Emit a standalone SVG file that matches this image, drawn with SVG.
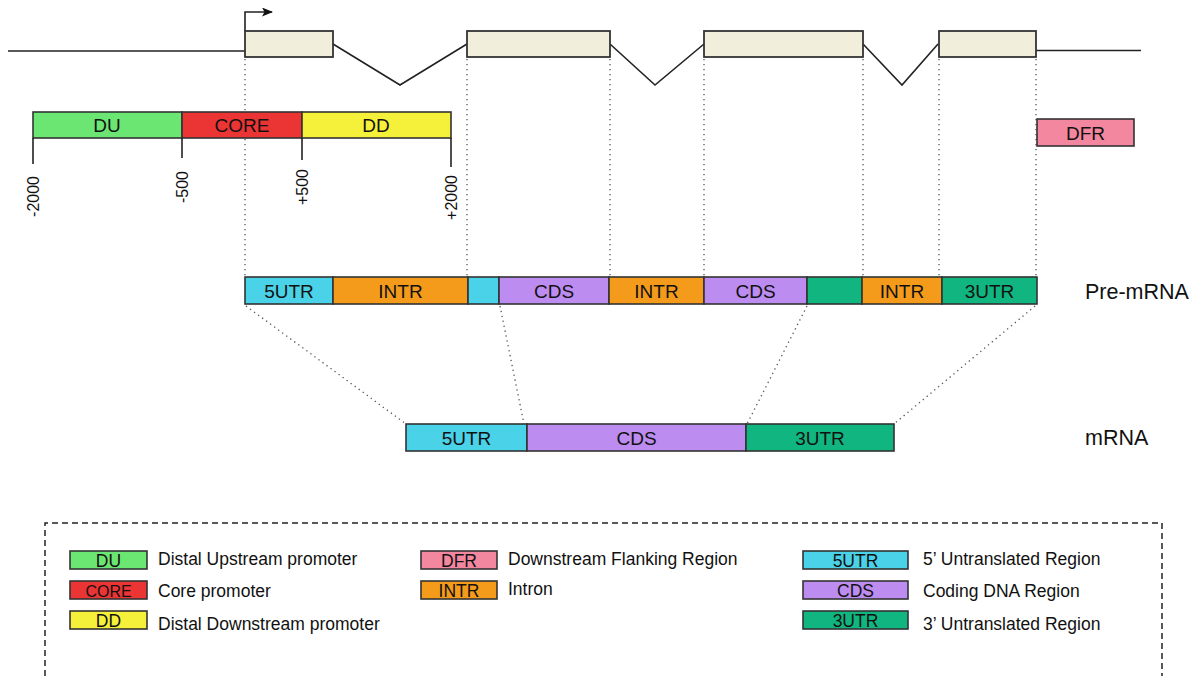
<svg xmlns="http://www.w3.org/2000/svg" width="1199" height="676" viewBox="0 0 1199 676">
<defs>
<marker id="arr" markerWidth="11" markerHeight="9" refX="10" refY="4.5" orient="auto" markerUnits="userSpaceOnUse">
<path d="M0,0 L11,4.5 L0,9 L2.5,4.5 Z" fill="#111"/>
</marker>
<style>
text{font-family:"Liberation Sans",Arial,sans-serif;fill:#111}
.seg{stroke:#333;stroke-width:1.6}
.exon{fill:#f1efdc;stroke:#333;stroke-width:1.8}
.line{stroke:#222;stroke-width:1.6;fill:none}
.dot{stroke:#555;stroke-width:1.3;stroke-dasharray:1.3 3.7;fill:none}
.lab{font-size:19px;text-anchor:middle}
.tick{font-size:16px;text-anchor:end}
.leg{font-size:17.5px;text-anchor:middle}
.desc{font-size:17.5px}
.big{font-size:21.5px}
.du{fill:#6ce672}.core{fill:#eb3434}.dd{fill:#f5f03a}.dfr{fill:#f2879f}
.intr{fill:#f59b1c}.utr5{fill:#4ad2e8}.cds{fill:#bd8cf0}.utr3{fill:#10b57f}
</style>
</defs>
<rect width="1199" height="676" fill="#fff"/>

<g id="connectors">
<line class="line" x1="8" y1="51" x2="245" y2="51"/>
<line class="line" x1="1036" y1="50.5" x2="1141" y2="50.5"/>
<path class="line" d="M245,31 V12 H272" marker-end="url(#arr)"/>
<polyline class="line" points="333,44 400,85 467,44"/>
<polyline class="line" points="610,44 655,85 704,44"/>
<polyline class="line" points="863,44 902,85 938,44"/>
<line class="dot" x1="245" y1="59" x2="245" y2="277"/>
<line class="dot" x1="467" y1="59" x2="467" y2="277"/>
<line class="dot" x1="610" y1="59" x2="610" y2="277"/>
<line class="dot" x1="704" y1="59" x2="704" y2="277"/>
<line class="dot" x1="863" y1="59" x2="863" y2="277"/>
<line class="dot" x1="939" y1="59" x2="939" y2="277"/>
<line class="dot" x1="1036" y1="59" x2="1036" y2="277"/>
<line class="dot" x1="246" y1="306" x2="406" y2="424"/>
<line class="dot" x1="500" y1="306" x2="524" y2="424"/>
<line class="dot" x1="807" y1="306" x2="747" y2="424"/>
<line class="dot" x1="1035" y1="306" x2="894" y2="424"/>
</g>

<g id="exon1"><rect class="exon" x="245" y="31" width="88" height="26"/></g>
<g id="exon2"><rect class="exon" x="467" y="31" width="143" height="26"/></g>
<g id="exon3"><rect class="exon" x="704" y="31" width="159" height="26"/></g>
<g id="exon4"><rect class="exon" x="939" y="31" width="97" height="26"/></g>

<g id="promoter">
<rect class="seg du" x="33" y="112" width="149" height="26"/>
<rect class="seg core" x="182" y="112" width="120" height="26"/>
<rect class="seg dd" x="302" y="112" width="149" height="26"/>
<text class="lab" x="107" y="132">DU</text>
<text class="lab" x="242" y="132">CORE</text>
<text class="lab" x="376" y="132">DD</text>
<line class="line" x1="33" y1="138" x2="33" y2="164"/>
<line class="line" x1="182" y1="138" x2="182" y2="158"/>
<line class="line" x1="302" y1="138" x2="302" y2="160"/>
<line class="line" x1="451" y1="138" x2="451" y2="167"/>
<text class="tick" transform="translate(39,176) rotate(-90)">-2000</text>
<text class="tick" transform="translate(188,171) rotate(-90)">-500</text>
<text class="tick" transform="translate(308,169) rotate(-90)">+500</text>
<text class="tick" transform="translate(457,175) rotate(-90)">+2000</text>
</g>

<g id="dfr">
<rect class="seg dfr" x="1037" y="119" width="97" height="27"/>
<text class="lab" x="1085.5" y="139.5">DFR</text>
</g>

<g id="pre-mrna">
<rect class="seg utr5" x="245" y="277" width="88" height="27"/>
<rect class="seg intr" x="333" y="277" width="135" height="27"/>
<rect class="seg utr5" x="468" y="277" width="31" height="27"/>
<rect class="seg cds" x="499" y="277" width="110" height="27"/>
<rect class="seg intr" x="609" y="277" width="95" height="27"/>
<rect class="seg cds" x="704" y="277" width="103" height="27"/>
<rect class="seg utr3" x="807" y="277" width="55" height="27"/>
<rect class="seg intr" x="862" y="277" width="80" height="27"/>
<rect class="seg utr3" x="942" y="277" width="95" height="27"/>
<text class="lab" x="289" y="297.5">5UTR</text>
<text class="lab" x="400.5" y="297.5">INTR</text>
<text class="lab" x="554" y="297.5">CDS</text>
<text class="lab" x="656.5" y="297.5">INTR</text>
<text class="lab" x="755.5" y="297.5">CDS</text>
<text class="lab" x="902" y="297.5">INTR</text>
<text class="lab" x="989.5" y="297.5">3UTR</text>
<text class="big" x="1085" y="299">Pre-mRNA</text>
</g>

<g id="mrna">
<rect class="seg utr5" x="406" y="424" width="121" height="27"/>
<rect class="seg cds" x="527" y="424" width="219" height="27"/>
<rect class="seg utr3" x="746" y="424" width="148" height="27"/>
<text class="lab" x="466.5" y="444.5">5UTR</text>
<text class="lab" x="636.5" y="444.5">CDS</text>
<text class="lab" x="820" y="444.5">3UTR</text>
<text class="big" x="1085" y="445">mRNA</text>
</g>

<g id="legend">
<path d="M45,676 V523 H1162 V676" fill="none" stroke="#222" stroke-width="1.5" stroke-dasharray="6 4"/>
<g id="leg-du"><rect class="seg du" x="70" y="551" width="77" height="18"/><text class="leg" x="108.5" y="566.5">DU</text><text class="desc" x="158" y="565">Distal Upstream promoter</text></g>
<g id="leg-core"><rect class="seg core" x="70" y="581" width="77" height="18"/><text class="leg" x="108.5" y="596.5" style="font-size:16px">CORE</text><text class="desc" x="158" y="597">Core promoter</text></g>
<g id="leg-dd"><rect class="seg dd" x="70" y="611" width="77" height="18"/><text class="leg" x="108.5" y="626.5">DD</text><text class="desc" x="158" y="630">Distal Downstream promoter</text></g>
<g id="leg-dfr"><rect class="seg dfr" x="421" y="551" width="76" height="18"/><text class="leg" x="459" y="566.5">DFR</text><text class="desc" x="508" y="565">Downstream Flanking Region</text></g>
<g id="leg-intr"><rect class="seg intr" x="421" y="581" width="76" height="18"/><text class="leg" x="459" y="596.5">INTR</text><text class="desc" x="508" y="595">Intron</text></g>
<g id="leg-5utr"><rect class="seg utr5" x="803" y="551" width="105" height="18"/><text class="leg" x="855.5" y="566.5">5UTR</text><text class="desc" x="923" y="565">5’ Untranslated Region</text></g>
<g id="leg-cds"><rect class="seg cds" x="803" y="581" width="105" height="18"/><text class="leg" x="855.5" y="596.5">CDS</text><text class="desc" x="923" y="597">Coding DNA Region</text></g>
<g id="leg-3utr"><rect class="seg utr3" x="803" y="611" width="105" height="18"/><text class="leg" x="855.5" y="626.5">3UTR</text><text class="desc" x="923" y="630">3’ Untranslated Region</text></g>
</g>
</svg>
